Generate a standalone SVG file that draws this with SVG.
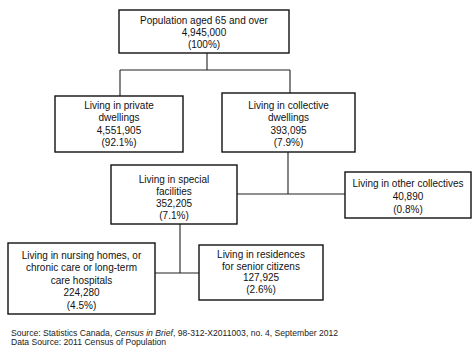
<svg xmlns="http://www.w3.org/2000/svg" width="474" height="352" viewBox="0 0 474 352">
<style>
.box{fill:#fff;stroke:#111;stroke-width:1.4}
.t{font-family:"Liberation Sans",Arial,sans-serif;font-size:10px;fill:#111;text-anchor:middle}
.c{fill:none;stroke:#222;stroke-width:1.1}
.src{font-family:"Liberation Sans",Arial,sans-serif;font-size:8.6px;fill:#222}
</style>
<rect width="474" height="352" fill="#fff"/>
<g id="connectors">
<path class="c" d="M207,53 V70 M120,70 H290 M120,70 V96 M290,70 V93"/>
<path class="c" d="M288,152 V194 M237,194 H345"/>
<path class="c" d="M180,224 V273 M155,273 H199"/>
</g>
<g id="n-total">
<rect class="box" x="119" y="10" width="170" height="43"/>
<text class="t" x="204" y="23.5">Population aged 65 and over</text>
<text class="t" x="204" y="35.5">4,945,000</text>
<text class="t" x="204" y="47.5">(100%)</text>
</g>
<g id="n-private">
<rect class="box" x="55" y="96" width="128" height="56"/>
<text class="t" x="119" y="108.5">Living in private</text>
<text class="t" x="119" y="121">dwellings</text>
<text class="t" x="119" y="133.5">4,551,905</text>
<text class="t" x="119" y="146">(92.1%)</text>
</g>
<g id="n-collective">
<rect class="box" x="222" y="93" width="133" height="59"/>
<text class="t" x="288.5" y="108.5">Living in collective</text>
<text class="t" x="288.5" y="121">dwellings</text>
<text class="t" x="288.5" y="133.5">393,095</text>
<text class="t" x="288.5" y="146">(7.9%)</text>
</g>
<g id="n-special">
<rect class="box" x="111" y="165" width="126" height="59"/>
<text class="t" x="174" y="182.5">Living in special</text>
<text class="t" x="174" y="194.5">facilities</text>
<text class="t" x="174" y="206.5">352,205</text>
<text class="t" x="174" y="218.5">(7.1%)</text>
</g>
<g id="n-other">
<rect class="box" x="345" y="172" width="126" height="46"/>
<text class="t" x="408" y="187">Living in other collectives</text>
<text class="t" x="408" y="200">40,890</text>
<text class="t" x="408" y="212.5">(0.8%)</text>
</g>
<g id="n-nursing">
<rect class="box" x="8" y="243" width="147" height="71"/>
<text class="t" x="81.5" y="258.5">Living in nursing homes, or</text>
<text class="t" x="81.5" y="271">chronic care or long-term</text>
<text class="t" x="81.5" y="283.5">care hospitals</text>
<text class="t" x="81.5" y="296">224,280</text>
<text class="t" x="81.5" y="308.5">(4.5%)</text>
</g>
<g id="n-residences">
<rect class="box" x="199" y="245" width="124" height="55"/>
<text class="t" x="261" y="258">Living in residences</text>
<text class="t" x="261" y="269.5">for senior citizens</text>
<text class="t" x="261" y="281">127,925</text>
<text class="t" x="261" y="292.5">(2.6%)</text>
</g>
<text class="src" x="11" y="336">Source: Statistics Canada, <tspan font-style="italic">Census in Brief</tspan>, 98-312-X2011003, no. 4, September 2012</text>
<text class="src" x="11" y="344.5">Data Source:  2011 Census of Population</text>
</svg>
